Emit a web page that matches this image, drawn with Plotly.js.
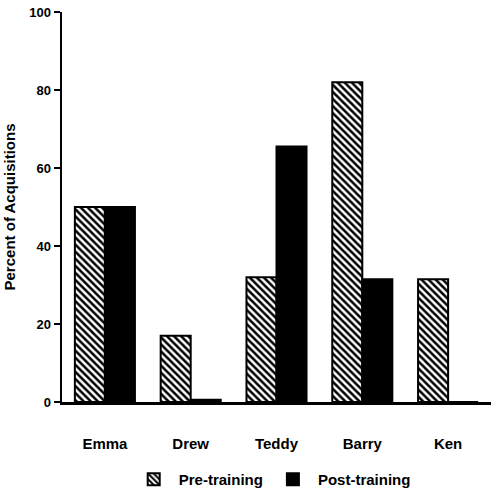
<!DOCTYPE html>
<html>
<head>
<meta charset="utf-8">
<script src="https://cdn.plot.ly/plotly-3.0.1.min.js"></script>
<style>html,body{margin:0;padding:0;background:#fff;}#chart{width:491px;height:496px;}</style>
</head>
<body>
<div id="chart"></div>
<script>
const categories = ["Emma", "Drew", "Teddy", "Barry", "Ken"];
const preTraining = [50, 17, 32, 82, 31.5];
const postTraining = [50, 0.6, 65.5, 31.5, 0];
const yTicks = [0, 20, 40, 60, 80, 100];

const FONT = "Liberation Sans, Arial, sans-serif";

const traces = [
  {
    type: "bar",
    name: "Pre-training",
    x: categories,
    y: preTraining,
    marker: {
      color: "#ffffff",
      line: {color: "#000000", width: 2},
      pattern: {shape: "\\", fgcolor: "#000000", bgcolor: "#ffffff", size: 5, solidity: 0.5}
    }
  },
  {
    type: "bar",
    name: "Post-training",
    x: categories,
    y: postTraining,
    marker: {color: "#000000", line: {color: "#000000", width: 2}}
  }
];

const layout = {
  width: 491,
  height: 496,
  margin: {l: 62, r: 0, t: 12, b: 93},
  paper_bgcolor: "#ffffff",
  plot_bgcolor: "#ffffff",
  barmode: "group",
  bargap: 0.3,
  bargroupgap: 0,
  font: {family: FONT, color: "#000000"},
  xaxis: {
    type: "category",
    range: [-0.5, 4.5],
    showline: true,
    linecolor: "#000000",
    linewidth: 2.5,
    ticks: "",
    showgrid: false,
    zeroline: false,
    tickfont: {family: FONT, size: 15, color: "#000000", weight: "bold"},
    ticklabelstandoff: 26
  },
  yaxis: {
    range: [0, 100],
    tickvals: yTicks,
    ticktext: yTicks.map(String),
    showline: true,
    linecolor: "#000000",
    linewidth: 2.5,
    ticks: "outside",
    ticklen: 6,
    tickwidth: 2,
    tickcolor: "#000000",
    showgrid: false,
    zeroline: false,
    tickfont: {family: FONT, size: 13, color: "#000000", weight: "bold"},
    title: {text: "Percent of Acquisitions", font: {family: FONT, size: 15, color: "#000000", weight: "bold"}, standoff: 10}
  },
  showlegend: true,
  legend: {
    orientation: "h",
    x: 0.49,
    xanchor: "center",
    y: -0.2,
    yanchor: "middle",
    font: {family: FONT, size: 15, color: "#000000", weight: "bold"},
    itemwidth: 40,
    traceorder: "normal"
  }
};

Plotly.newPlot("chart", traces, layout, {displayModeBar: false, staticPlot: true});
</script>
</body>
</html>
